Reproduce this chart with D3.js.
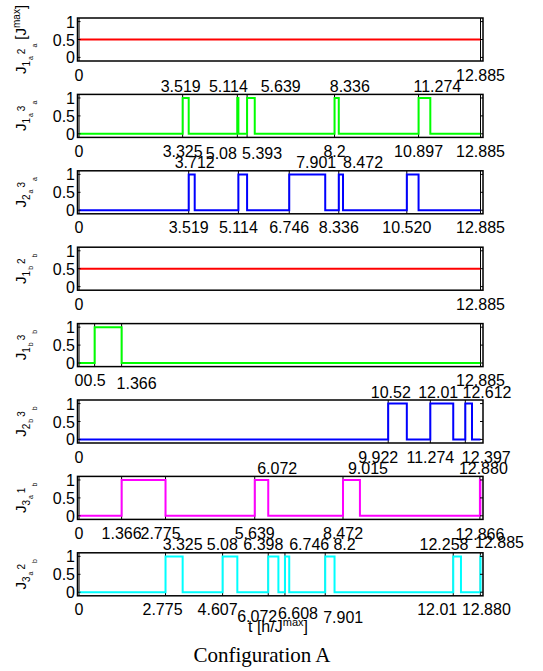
<!DOCTYPE html>
<html>
<head>
<meta charset="utf-8">
<script src="https://cdn.jsdelivr.net/npm/d3@7"></script>
<style>
  body { margin: 0; background: #fff; }
  text { font-family: "Liberation Sans", Arial, sans-serif; }
</style>
</head>
<body>
<svg id="chart" width="543" height="671"></svg>
<script>
const T_END = 12.885;

// switching intervals (value 1 between start and end), or a constant level
const j1a2a = 0.5;
const j1a3a = [[3.325, 3.519], [5.08, 5.114], [5.393, 5.639], [8.2, 8.336], [10.897, 11.274]];
const j2a3a = [[3.519, 3.712], [5.114, 5.393], [6.746, 7.901], [8.336, 8.472], [10.520, 10.897]];
const j1b2b = 0.5;
const j1b3b = [[0.5, 1.366]];
const j2b3b = [[9.922, 10.52], [11.274, 12.01], [12.397, 12.612]];
const j3a1b = [[1.366, 2.775], [5.639, 6.072], [8.472, 9.015], [12.866, 12.880]];
const j3a2b = [[2.775, 3.325], [4.607, 5.08], [6.072, 6.398], [6.608, 6.746], [7.901, 8.2], [12.01, 12.258], [12.880, 12.885]];

// tick labels under each panel, and the labels written above it
const bottom1 = ["0", "12.885"];
const bottom2 = ["0", "3.325", "5.08", "5.393", "8.2", "10.897", "12.885"];
const top2 = ["3.519", "5.114", "5.639", "8.336", "11.274"];
const bottom3 = ["0", "3.519", "5.114", "6.746", "8.336", "10.520", "12.885"];
const top3 = ["3.712", "7.901", "8.472"];
const bottom4 = ["0", "12.885"];
const bottom5 = ["0", "0.5", "1.366", "12.885"];
const bottom6 = ["0", "9.922", "11.274", "12.397"];
const top6 = ["10.52", "12.01", "12.612"];
const bottom7 = ["0", "1.366", "2.775", "5.639", "8.472", "12.866"];
const top7 = ["6.072", "9.015", "12.880"];
const bottom8 = ["0", "2.775", "4.607", "6.072", "6.608", "7.901", "12.01", "12.880"];
const top8 = ["3.325", "5.08", "6.398", "6.746", "8.2", "12.258", "12.885"];

const yTicks = [0, 0.5, 1];

// y label pieces: [sub1, subsub1, sub2, subsub2]
const panels = [
    {name: ["1", "a", "2", "a"], unit: true, value: j1a2a, color: "#ff0000", bottom: bottom1, top: []},
    {name: ["1", "a", "3", "a"], pulses: j1a3a, color: "#00ff00", bottom: bottom2, top: top2},
    {name: ["2", "a", "3", "a"], pulses: j2a3a, color: "#0000ff", bottom: bottom3, top: top3},
    {name: ["1", "b", "2", "b"], value: j1b2b, color: "#ff0000", bottom: bottom4, top: []},
    {name: ["1", "b", "3", "b"], pulses: j1b3b, color: "#00ff00", bottom: bottom5, top: []},
    {name: ["2", "b", "3", "b"], pulses: j2b3b, color: "#0000ff", bottom: bottom6, top: top6},
    {name: ["3", "a", "1", "b"], pulses: j3a1b, color: "#ff00ff", bottom: bottom7, top: top7},
    {name: ["3", "a", "2", "b"], pulses: j3a2b, color: "#00ffff", bottom: bottom8, top: top8}
];

// hand nudges for labels that would collide (panel index : label) -> [dx, dy]
const nudge = {
    "1b:5.08": [-16, 2], "1b:5.393": [15, 2],
    "1t:3.519": [-8, 0], "1t:5.114": [-10, 0], "1t:5.639": [26, 0], "1t:8.336": [11, 0], "1t:11.274": [7, 0],
    "2t:7.901": [-9, 0], "2t:8.472": [20, 0],
    "4b:1.366": [15, 3],
    "5b:9.922": [-10, 0], "5b:12.397": [21, 0],
    "5t:10.52": [-16, 0], "5t:12.01": [-15, 0], "5t:12.612": [15, 0],
    "6b:2.775": [-5, 0], "6b:12.866": [0, 1],
    "6t:6.072": [9, 0], "6t:9.015": [8, 0], "6t:12.880": [3, 0],
    "7t:5.08": [-15, 0], "7t:6.398": [-15, 0], "7t:6.746": [20, 0], "7t:8.2": [10, 0],
    "7t:12.258": [-17, 0], "7t:12.885": [19, -2],
    "7b:2.775": [-3, 0], "7b:4.607": [-5, 0], "7b:6.072": [-11, 7], "7b:6.608": [13, 4],
    "7b:7.901": [18, 8], "7b:12.01": [-16, 0], "7b:12.880": [6, 0]
};

const LEFT = 77.5, RIGHT = 483;
const FIRST_TOP = 18, STEP = 76.4, PH = 43;

const svg = d3.select("#chart");

const x = d3.scaleLinear()
    .domain([-0.05, 12.965])
    .range([LEFT, RIGHT]);

function stepData(p) {
    if (p.pulses === undefined) {
        return [[0, p.value], [T_END, p.value]];
    }
    const pts = [[0, 0]];
    p.pulses.forEach(([a, b]) => {
        pts.push([a, 0], [a, 1], [b, 1], [b, 0]);
    });
    pts.push([T_END, 0]);
    return pts;
}

panels.forEach((p, i) => {
    const top = FIRST_TOP + i * STEP;
    const y = d3.scaleLinear()
        .domain([-0.1, 1.1])
        .range([top + PH, top]);

    const g = svg.append("g");

    // black marks at each switching time
    g.selectAll("line.sw")
        .data(p.bottom.map(Number))
        .enter().append("line")
        .attr("x1", d => x(d)).attr("x2", d => x(d))
        .attr("y1", top).attr("y2", top + PH)
        .attr("stroke", "#000")
        .attr("stroke-width", 1);

    const line = d3.line()
        .x(d => x(d[0]))
        .y(d => y(d[1]));

    g.append("path")
        .datum(stepData(p))
        .attr("fill", "none")
        .attr("stroke", p.color)
        .attr("stroke-width", 2)
        .attr("d", line);

    // frame
    g.append("rect")
        .attr("x", LEFT).attr("y", top)
        .attr("width", RIGHT - LEFT).attr("height", PH)
        .attr("fill", "none")
        .attr("stroke", "#000")
        .attr("stroke-width", 1.5);

    // small y ticks on both sides
    yTicks.forEach(t => {
        g.append("line")
            .attr("x1", LEFT).attr("x2", LEFT + 3)
            .attr("y1", y(t)).attr("y2", y(t))
            .attr("stroke", "#000");
        g.append("line")
            .attr("x1", RIGHT - 3).attr("x2", RIGHT)
            .attr("y1", y(t)).attr("y2", y(t))
            .attr("stroke", "#000");
    });

    g.selectAll("text.yt")
        .data(yTicks)
        .enter().append("text")
        .attr("x", LEFT - 2.5)
        .attr("y", d => y(d) + 6)
        .attr("text-anchor", "end")
        .attr("font-size", 16)
        .text(d => d);

    g.selectAll("text.bt")
        .data(p.bottom)
        .enter().append("text")
        .attr("x", d => x(+d) + (nudge[i + "b:" + d] || [0, 0])[0])
        .attr("y", d => top + PH + 19.5 + (nudge[i + "b:" + d] || [0, 0])[1])
        .attr("text-anchor", "middle")
        .attr("font-size", 16)
        .text(d => d);

    g.selectAll("text.tt")
        .data(p.top)
        .enter().append("text")
        .attr("x", d => x(+d) + (nudge[i + "t:" + d] || [0, 0])[0])
        .attr("y", d => top - 2.5 + (nudge[i + "t:" + d] || [0, 0])[1])
        .attr("text-anchor", "middle")
        .attr("font-size", 16)
        .text(d => d);

    // rotated y label
    const lab = g.append("text")
        .attr("transform", `translate(26,${top + PH / 2}) rotate(-90)`)
        .attr("text-anchor", "middle")
        .attr("font-size", 15);
    lab.append("tspan").text("J");
    lab.append("tspan").attr("font-size", 10).attr("dy", 4).text(p.name[0]);
    lab.append("tspan").attr("font-size", 7).attr("dx", 1).attr("dy", 3).text(p.name[1]);
    lab.append("tspan").attr("font-size", 10).attr("dx", 2).attr("dy", -8).text(p.name[2]);
    lab.append("tspan").attr("font-size", 7).attr("dx", 1).attr("dy", 12).text(p.name[3]);
    if (p.unit) {
        lab.append("tspan").attr("font-size", 15).attr("dx", 4).attr("dy", -11).text("[J");
        lab.append("tspan").attr("font-size", 10).attr("dy", -6).text("max");
        lab.append("tspan").attr("font-size", 15).attr("dy", 6).text("]");
    }
});

const xl = svg.append("text")
    .attr("x", 278)
    .attr("y", 632)
    .attr("text-anchor", "middle")
    .attr("font-size", 16);
xl.append("tspan").text("t [h/J");
xl.append("tspan").attr("font-size", 11).attr("dy", -6).text("max");
xl.append("tspan").attr("dy", 6).text("]");

svg.append("text")
    .attr("x", 262)
    .attr("y", 662)
    .attr("text-anchor", "middle")
    .attr("font-size", 21)
    .style("font-family", "'Liberation Serif', 'DejaVu Serif', serif")
    .text("Configuration A");
</script>
</body>
</html>
